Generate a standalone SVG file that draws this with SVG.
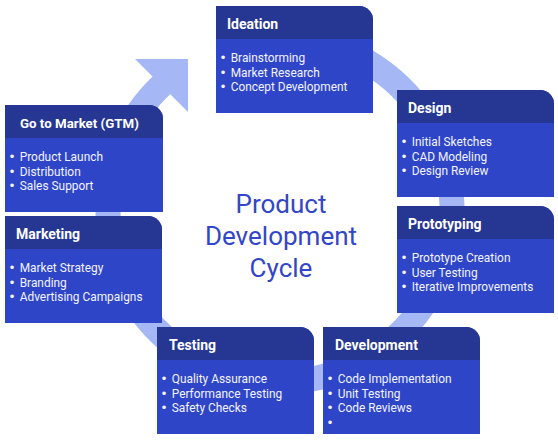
<svg xmlns="http://www.w3.org/2000/svg" width="558" height="442" viewBox="0 0 558 442">
<style>
.hdr{fill:#263693}
.body{fill:#2f45c8}
.title{font-family:Roboto,"Liberation Sans",sans-serif;font-size:14px;font-weight:bold;fill:#ffffff}
.item{font-family:Roboto,"Liberation Sans",sans-serif;font-size:11.9px;fill:#f2f4ff}
.b{font-family:"Liberation Sans",sans-serif;font-size:13px}
.center{font-family:Roboto,"Liberation Sans",sans-serif;font-size:26px;fill:#3346c9;text-anchor:middle}
.ring{fill:none;stroke:#a5b8f5;stroke-width:25}
</style>
<defs>
<path id="bodyShape" d="M0 0 H143 A14 14 0 0 1 157 14 V107 H0 Z"/>
<path id="hdrShape" d="M0 0 H143 A14 14 0 0 1 157 14 V33 H0 Z"/>
</defs>
<rect width="558" height="442" fill="#ffffff"/>
<g id="connectors">
<path class="ring" d="M 309.9 40.6 A 172 172 0 1 1 162.7 84.2"/>
<polygon points="135,59 188,59 188,112" fill="#a5b8f5"/>
</g>
<g id="center-label">
<text class="center" x="281" y="213">Product</text>
<text class="center" x="281" y="245">Development</text>
<text class="center" x="281" y="277">Cycle</text>
</g>
<g id="ideation" transform="translate(216,6)">
<use href="#bodyShape" class="body"/>
<use href="#hdrShape" class="hdr"/>
<text class="title" x="11" y="23">Ideation</text>
<text class="item" x="4.7" y="56"><tspan class="b">•</tspan><tspan dx="2.5"> Brainstorming</tspan></text>
<text class="item" x="4.7" y="70.5"><tspan class="b">•</tspan><tspan dx="2.5"> Market Research</tspan></text>
<text class="item" x="4.7" y="85"><tspan class="b">•</tspan><tspan dx="2.5"> Concept Development</tspan></text>
</g>
<g id="design" transform="translate(397,90)">
<use href="#bodyShape" class="body"/>
<use href="#hdrShape" class="hdr"/>
<text class="title" x="11" y="23">Design</text>
<text class="item" x="4.7" y="56"><tspan class="b">•</tspan><tspan dx="2.5"> Initial Sketches</tspan></text>
<text class="item" x="4.7" y="70.5"><tspan class="b">•</tspan><tspan dx="2.5"> CAD Modeling</tspan></text>
<text class="item" x="4.7" y="85"><tspan class="b">•</tspan><tspan dx="2.5"> Design Review</tspan></text>
</g>
<g id="prototyping" transform="translate(397,206)">
<use href="#bodyShape" class="body"/>
<use href="#hdrShape" class="hdr"/>
<text class="title" x="11" y="23">Prototyping</text>
<text class="item" x="4.7" y="56"><tspan class="b">•</tspan><tspan dx="2.5"> Prototype Creation</tspan></text>
<text class="item" x="4.7" y="70.5"><tspan class="b">•</tspan><tspan dx="2.5"> User Testing</tspan></text>
<text class="item" x="4.7" y="85"><tspan class="b">•</tspan><tspan dx="2.5"> Iterative Improvements</tspan></text>
</g>
<g id="development" transform="translate(323,327)">
<use href="#bodyShape" class="body"/>
<use href="#hdrShape" class="hdr"/>
<text class="title" x="12" y="23">Development</text>
<text class="item" x="4.7" y="56"><tspan class="b">•</tspan><tspan dx="2.5"> Code Implementation</tspan></text>
<text class="item" x="4.7" y="70.5"><tspan class="b">•</tspan><tspan dx="2.5"> Unit Testing</tspan></text>
<text class="item" x="4.7" y="85"><tspan class="b">•</tspan><tspan dx="2.5"> Code Reviews</tspan></text>
<text class="item" x="4.7" y="99.5"><tspan class="b">•</tspan></text>
</g>
<g id="testing" transform="translate(157,327)">
<use href="#bodyShape" class="body"/>
<use href="#hdrShape" class="hdr"/>
<text class="title" x="12" y="23">Testing</text>
<text class="item" x="4.7" y="56"><tspan class="b">•</tspan><tspan dx="2.5"> Quality Assurance</tspan></text>
<text class="item" x="4.7" y="70.5"><tspan class="b">•</tspan><tspan dx="2.5"> Performance Testing</tspan></text>
<text class="item" x="4.7" y="85"><tspan class="b">•</tspan><tspan dx="2.5"> Safety Checks</tspan></text>
</g>
<g id="marketing" transform="translate(5,216)">
<use href="#bodyShape" class="body"/>
<use href="#hdrShape" class="hdr"/>
<text class="title" x="11" y="23">Marketing</text>
<text class="item" x="4.7" y="56"><tspan class="b">•</tspan><tspan dx="2.5"> Market Strategy</tspan></text>
<text class="item" x="4.7" y="70.5"><tspan class="b">•</tspan><tspan dx="2.5"> Branding</tspan></text>
<text class="item" x="4.7" y="85"><tspan class="b">•</tspan><tspan dx="2.5"> Advertising Campaigns</tspan></text>
</g>
<g id="go-to-market" transform="translate(5,105)">
<path class="body" d="M0 0 H144 A14 14 0 0 1 158 14 V107 H0 Z"/>
<path class="hdr" d="M0 0 H144 A14 14 0 0 1 158 14 V33 H0 Z"/>
<text class="title" x="15" y="23" style="font-size:13.3px">Go to Market (GTM)</text>
<text class="item" x="4.7" y="56"><tspan class="b">•</tspan><tspan dx="2.5"> Product Launch</tspan></text>
<text class="item" x="4.7" y="70.5"><tspan class="b">•</tspan><tspan dx="2.5"> Distribution</tspan></text>
<text class="item" x="4.7" y="85"><tspan class="b">•</tspan><tspan dx="2.5"> Sales Support</tspan></text>
</g>
</svg>
